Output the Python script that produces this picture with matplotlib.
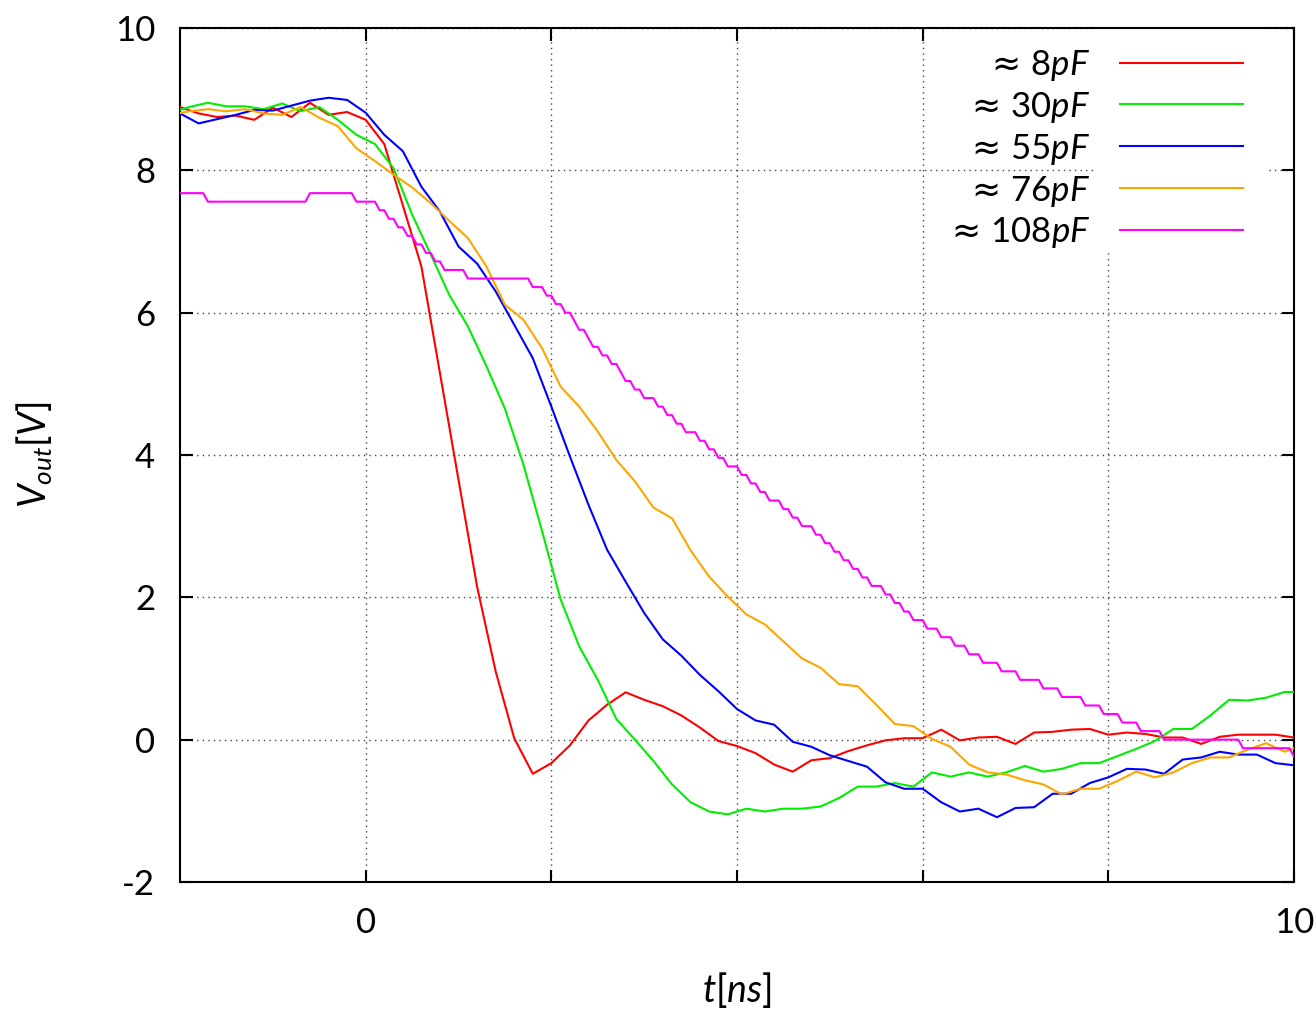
import numpy as np
import matplotlib
matplotlib.use('Agg')
import matplotlib.pyplot as plt
from matplotlib.patches import Rectangle

plt.rcParams['font.family'] = ['Lato', 'DejaVu Sans']
plt.rcParams['mathtext.fontset'] = 'custom'
plt.rcParams['mathtext.rm'] = 'Lato'
plt.rcParams['mathtext.it'] = 'Lato:italic'
plt.rcParams['mathtext.bf'] = 'Lato:bold'
plt.rcParams['mathtext.sf'] = 'DejaVu Sans'
plt.rcParams['axes.unicode_minus'] = False

# Scope-Kurven: rot/blau auf geraden 0.2ns, gruen/orange auf ungeraden 0.1ns-Offsets
t_even = np.round(np.arange(61) * 0.2 - 2.0, 2)
t_odd = np.round(np.arange(62) * 0.2 - 2.1, 2)

v_8pF = [8.89, 8.80, 8.75, 8.77, 8.71, 8.88, 8.75, 8.95, 8.78, 8.82,
         8.71, 8.37, 7.51, 6.65, 5.15, 3.65, 2.15, 0.96, 0.02, -0.48,
         -0.33, -0.08, 0.27, 0.49, 0.665, 0.56, 0.47, 0.34, 0.17, -0.02,
         -0.09, -0.19, -0.35, -0.45, -0.29, -0.26, -0.16, -0.08, -0.01, 0.02,
         0.02, 0.14, -0.01, 0.03, 0.04, -0.06, 0.10, 0.11, 0.14, 0.15,
         0.07, 0.10, 0.08, 0.03, 0.03, -0.06, 0.04, 0.07, 0.07, 0.07, 0.03]

v_30pF = [8.81, 8.89, 8.95, 8.90, 8.90, 8.86, 8.94, 8.83, 8.89, 8.71,
          8.50, 8.37, 8.03, 7.38, 6.82, 6.25, 5.81, 5.25, 4.65, 3.86,
          2.93, 1.97, 1.31, 0.84, 0.29, 0.00, -0.30, -0.63, -0.88, -1.01,
          -1.05, -0.97, -1.01, -0.97, -0.97, -0.94, -0.82, -0.66, -0.66, -0.61,
          -0.66, -0.46, -0.52, -0.46, -0.52, -0.46, -0.37, -0.45, -0.41, -0.33,
          -0.33, -0.23, -0.13, -0.02, 0.15, 0.15, 0.34, 0.56, 0.55, 0.59,
          0.67, 0.67]

v_55pF = [8.80, 8.66, 8.72, 8.78, 8.85, 8.84, 8.91, 8.98, 9.02, 8.99,
          8.81, 8.50, 8.27, 7.77, 7.42, 6.93, 6.69, 6.30, 5.83, 5.36,
          4.68, 3.98, 3.30, 2.67, 2.22, 1.78, 1.41, 1.18, 0.91, 0.68,
          0.43, 0.27, 0.21, -0.03, -0.10, -0.22, -0.30, -0.38, -0.60, -0.69,
          -0.69, -0.88, -1.01, -0.97, -1.09, -0.96, -0.95, -0.76, -0.76, -0.61,
          -0.53, -0.41, -0.42, -0.48, -0.28, -0.25, -0.17, -0.21, -0.21, -0.33, -0.36]

v_76pF = [8.78, 8.83, 8.86, 8.83, 8.86, 8.80, 8.78, 8.89, 8.74, 8.62,
          8.31, 8.13, 7.94, 7.76, 7.54, 7.29, 7.05, 6.65, 6.11, 5.90,
          5.50, 4.96, 4.68, 4.33, 3.93, 3.63, 3.26, 3.11, 2.66, 2.29,
          2.01, 1.76, 1.62, 1.38, 1.14, 1.01, 0.78, 0.75, 0.49, 0.22,
          0.19, 0.01, -0.10, -0.35, -0.46, -0.49, -0.57, -0.63, -0.77, -0.69,
          -0.69, -0.58, -0.45, -0.53, -0.46, -0.33, -0.25, -0.25, -0.14, -0.05,
          -0.17, -0.07]

# 108pF: 8-bit Rohdaten, 0.05ns Raster -> Stufen (ADC-Level) + Anzahl Samples je Stufe
MAG_DT = 0.05
MAG_STEP = 0.12
mag_levels = [64, 63, 64, 63, 62, 61, 60, 59, 58, 57, 56, 55, 54, 53, 52, 51, 50,
              49, 48, 47, 46, 45, 44, 43, 42, 41, 40, 39, 38, 37, 36, 35, 34, 33,
              32, 31, 30, 29, 28, 27, 26, 25, 24, 23, 22, 21, 20, 19, 18, 17, 16,
              15, 14, 13, 12, 11, 10, 9, 8, 7, 6, 5, 4, 3, 2, 1, 0, -1, -2]
mag_runs = [6, 22, 10, 5, 2, 2, 2, 2, 2, 2, 2, 5, 14, 3, 2, 2, 2,
            1, 2, 1, 2, 2, 2, 1, 2, 2, 3, 2, 2, 2, 3, 2, 2, 2,
            3, 2, 2, 2, 3, 2, 2, 3, 2, 2, 2, 2, 2, 2, 3, 2, 2,
            2, 3, 3, 3, 3, 3, 4, 4, 5, 4, 5, 4, 4, 4, 5, 17, 11, 1]

cap_values = ['8', '30', '55', '76', '108']
labels = [r'$\mathsf{\approx}\,$' + c + '$pF$' for c in cap_values]
colors = ['#ff0000', '#00ee00', '#0000ff', '#ffa500', '#ff00ff']

mag_v = np.repeat(mag_levels, mag_runs) * MAG_STEP
mag_t = -2.0 + MAG_DT * np.arange(len(mag_v))

fig = plt.figure(figsize=(13.16, 10.09), dpi=100)
ax = fig.add_axes([0.1368, 0.1259, 0.8465, 0.8463])

series = [(t_even, v_8pF), (t_odd, v_30pF), (t_even, v_55pF), (t_odd, v_76pF), (mag_t, mag_v)]
for (t, v), lab, c in zip(series, labels, colors):
    ax.plot(t, v, color=c, lw=1.5, label=lab, zorder=3)

ax.set_xlim(-2, 10)
ax.set_ylim(-2, 10)
ax.set_xticks([0, 2, 4, 6, 8, 10])
ax.set_xticklabels(['0', '', '', '', '', '10'])
ax.set_yticks([-2, 0, 2, 4, 6, 8, 10])
ax.set_axisbelow(True)
ax.grid(True, color='#444444', linestyle=(0, (1, 3)), linewidth=1.0)
ax.tick_params(direction='in', length=9, width=1.5, top=True, right=True, labelsize=25)
ax.tick_params(axis='y', pad=18)
ax.tick_params(axis='x', pad=18)
for s in ax.spines.values():
    s.set_linewidth(1.5)

# weisse Flaeche hinter den Legenden-Linien (wie gnuplot key)
ax.add_patch(Rectangle((0.8196, 0.740), 0.157, 0.26, transform=ax.transAxes,
                       facecolor='white', edgecolor='none', zorder=1))

ax.legend(loc='upper right', bbox_to_anchor=(0.9542, 0.977), markerfirst=False,
          frameon=False, fontsize=25, handlelength=3.55, handletextpad=0.85,
          labelspacing=0.2, borderpad=0, borderaxespad=0)

ax.set_xlabel('$t[ns]$', fontsize=27, labelpad=22)
ax.set_ylabel('$V_{out}[V]$', fontsize=27, labelpad=44)

fig.savefig('out.png', dpi=100)
